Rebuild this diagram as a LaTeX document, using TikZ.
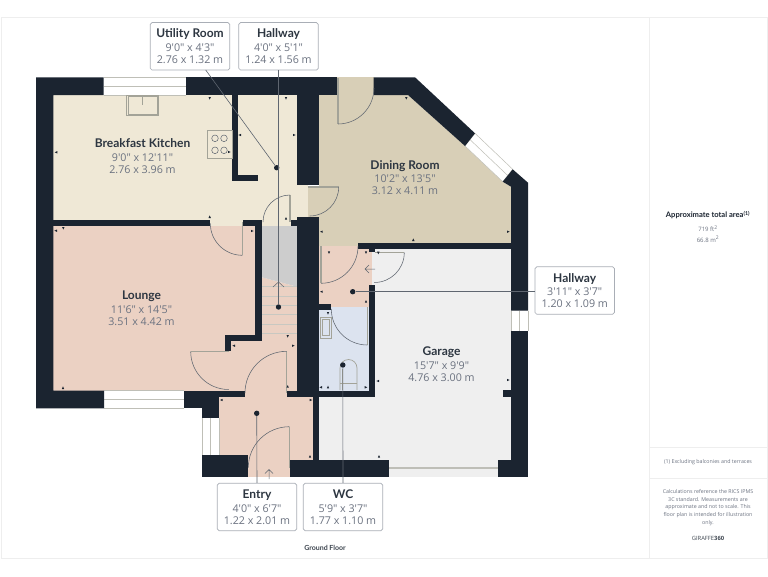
\documentclass[tikz,border=0pt]{standalone}
\usepackage{fontspec}
\setmainfont{Open Sans}
\newfontfamily\headfont{Lato}
\newfontfamily\dimfont{Open Sans}
\definecolor{wallc}{HTML}{1B2430}
\definecolor{kitc}{HTML}{EFE8D6}
\definecolor{dinc}{HTML}{D8CFB7}
\definecolor{louc}{HTML}{EBD1C3}
\definecolor{wcc}{HTML}{DCE3EF}
\definecolor{garc}{HTML}{EFEFEF}
\definecolor{stairc}{HTML}{CDCDCD}
\definecolor{framec}{HTML}{EEEEEE}
\definecolor{linec}{HTML}{5F6670}
\definecolor{dimc}{HTML}{6B7280}
\definecolor{boxc}{HTML}{A9AEB6}
\definecolor{fixc}{HTML}{A3A398}
\tikzset{
  wallfill/.style={fill=wallc,draw=none},
  doorarc/.style={draw=linec,line width=.55pt},
  doorleaf/.style={draw=fixc,line width=1.1pt},
  fixture/.style={draw=fixc,line width=.7pt},
  leader/.style={draw=linec,line width=.6pt},
  dotmark/.style={circle,fill=wallc,inner sep=0pt,minimum size=5.4pt},
  tagbox/.style={draw=boxc,fill=white,rounded corners=1.8pt,line width=.7pt,minimum width=79.5pt,minimum height=47.5pt,inner sep=0pt,align=center},
  roomtext/.style={align=center,inner sep=0pt,text=dimc},
  windowline/.style={draw=fixc!70,line width=.5pt},
}
\newcommand{\rlabel}[3]{{\headfont\bfseries\fontsize{12}{15}\selectfont\color{wallc!92}#1}\\[1.7pt]{\dimfont\fontsize{10.7}{13.4}\selectfont #2}\\{\dimfont\fontsize{10.7}{13.4}\selectfont #3}}
\newcommand{\tk}[3]{\fill[wallc,shift={(#1,#2)},rotate=#3] (1.6,0)--(-1,1.2)--(-1,-1.2)--cycle;}
\begin{document}
\begin{tikzpicture}[x=1pt,y=-1pt]
\useasboundingbox (0,0) rectangle (768,576);
\fill[white] (0,0) rectangle (768,576);
% frame
\draw[framec,line width=1pt] (1.5,17) rectangle (767,558);
\draw[framec,line width=1pt] (649,17) -- (649,558);
\draw[framec,line width=.8pt] (649,447) -- (767,447);
\draw[framec,line width=.8pt] (649,478) -- (767,478);
% floors
\fill[kitc] (53,95) rectangle (297,220);
\fill[kitc] (210,218) rectangle (243,226);
\fill[kitc] (262,218) rectangle (291,226);
\fill[kitc] (296,185) rectangle (308,217);
\fill[dinc] (307.7,186) rectangle (320,217);
\fill[dinc] (319,95) -- (408,95) -- (465,146) -- (502.7,181.7) -- (511,186.7) -- (511,244) -- (358,244) -- (358,246) -- (319,246) -- cycle;
\fill[dinc] (336.7,77) rectangle (373.7,96);
\fill[louc] (53,226) rectangle (256,391);
\fill[louc] (225,340) rectangle (297,392);
\fill[louc] (262,277.3) -- (297,286.7) -- (297,341) -- (262,341) -- cycle;
\fill[louc] (245,390) rectangle (287,397);
\fill[louc] (219,396) rectangle (313,460);
\fill[louc] (248,459) rectangle (290,477);
\fill[stairc] (262,226) -- (297,226) -- (297,286.7) -- (262,277.3) -- cycle;
\fill[garc] (319,249) rectangle (511,460);
\fill[garc] (389,459) rectangle (498,477);
\fill[garc] (511,310) rectangle (528,331);
\fill[louc] (319,246) rectangle (371.7,307);
\fill[wcc] (319,307) rectangle (369.5,391);
% stairs
\foreach \yy in {286.7,296,305.3,314.7,324,333.3} \draw[fixc!60,line width=.5pt] (262,\yy) -- (297,\yy);
\draw[linec,line width=.5pt] (273,287) -- (278.5,282) -- (284,287);
% window panes
\fill[white] (103.5,77.3) rectangle (185.7,95);
\draw[windowline] (103.5,77.3) -- (185.7,77.3) (103.5,86) -- (185.7,86) (103.5,95) -- (185.7,95);
\fill[white] (104,390.7) rectangle (184,408.3);
\draw[windowline] (104,390.7) -- (184,390.7) (104,399.5) -- (184,399.5) (104,408.3) -- (184,408.3);
\fill[white] (202,418) rectangle (219.3,455);
\draw[windowline] (202,418) -- (202,455) (210.6,418) -- (210.6,455) (219.3,418) -- (219.3,455);
\fill[white] (511,310.7) rectangle (528,331);
\draw[windowline] (511,310.7) -- (511,331) (519.5,310.7) -- (519.5,331) (528,310.7) -- (528,331);
\fill[white] (475,133.3) -- (512.7,169.3) -- (502.7,181.7) -- (465,146) -- cycle;
\draw[windowline] (475,133.3) -- (512.7,169.3) (470,139.6) -- (507.7,175.5) (465,146) -- (502.7,181.7) (475,133.3) -- (465,146) (512.7,169.3) -- (502.7,181.7);
% walls
\fill[wallfill] (36,77.3) -- (103.5,77.3) -- (103.5,95) -- (53.3,95) -- (53.3,390.7) -- (104,390.7) -- (104,408.3) -- (36,408.3) -- cycle;
\fill[wallfill] (53,220) rectangle (210,226);
\fill[wallfill] (242.7,220) rectangle (262,226);
\fill[wallfill] (290.7,220) rectangle (297,226);
\fill[wallfill] (185.7,77.3) rectangle (336.7,95);
\fill[wallfill] (232,95) rectangle (238.3,181);
\fill[wallfill] (232,174.7) rectangle (258,181);
\fill[wallfill] (296.7,95) rectangle (319,185.3);
\fill[wallfill] (296.7,216.7) rectangle (318.5,396.7);
\fill[wallfill] (255,220) rectangle (261.7,340.7);
\fill[wallfill] (225,334.7) rectangle (261.7,340.7);
\fill[wallfill] (225,334.7) rectangle (231.3,350.7);
\fill[wallfill] (184,390.7) rectangle (219.3,408.3);
\fill[wallfill] (219,390.7) rectangle (245,396.7);
\fill[wallfill] (202,408) rectangle (219.3,418);
\fill[wallfill] (286.7,390.7) rectangle (319,396.7);
\fill[wallfill] (312.7,396) rectangle (319,460);
\fill[wallfill] (319,390.7) rectangle (375,396.7);
\fill[wallfill] (369,285) rectangle (375,396.7);
\fill[wallfill] (318,304) rectangle (331,310);
\fill[wallfill] (358,243.3) rectangle (511,249.3);
\fill[wallfill] (369,249) rectangle (375,252);
\fill[wallfill] (373.7,77.3) -- (415,77.3) -- (475,133.3) -- (465,146) -- (408,95) -- (373.7,95) -- cycle;
\fill[wallfill] (512.7,169.3) -- (528,182.7) -- (528,310.7) -- (511,310.7) -- (511,186.7) -- (502.7,181.7) -- cycle;
\fill[wallfill] (511,331) rectangle (528,477.3);
\fill[wallfill] (498,460) rectangle (528,477.3);
\fill[wallfill] (503,390) rectangle (511,396.7);
\fill[wallfill] (290,460) rectangle (389.3,477.3);
\fill[wallfill] (202,455) rectangle (248.3,477.3);
% doors
\draw[doorleaf] (338,78) -- (338,124);
\draw[doorarc] (338,124) arc[start angle=90,end angle=0,radius=36];
\draw[doorleaf] (307.7,187) -- (338.7,187);
\draw[doorarc] (338.7,187) arc[start angle=0,end angle=90,radius=29];
\draw[doorleaf] (290,195) -- (290,222);
\draw[doorarc] (290,195) arc[start angle=270,end angle=180,radius=27];
\draw[doorleaf] (242.3,222) -- (242.3,255.3);
\draw[doorarc] (242.3,255.3) arc[start angle=90,end angle=180,radius=32];
\draw[doorleaf] (190.7,351.5) -- (228.7,351.5);
\draw[doorarc] (190.7,351.5) arc[start angle=180,end angle=90,radius=38];
\draw[doorleaf] (286.7,351.3) -- (286.7,393);
\draw[doorarc] (286.7,351.3) arc[start angle=270,end angle=180,radius=41.7];
\draw[doorleaf] (289.3,426.7) -- (289.3,468);
\draw[doorarc] (289.3,426.7) arc[start angle=270,end angle=180,radius=41];
\draw[doorleaf] (321,246) -- (321,283.3);
\draw[doorarc] (321,283.3) arc[start angle=90,end angle=0,radius=37];
\draw[doorleaf] (374.5,252.5) -- (404.3,252.5);
\draw[doorarc] (404.3,252.5) arc[start angle=0,end angle=90,radius=30];
\draw[doorleaf] (367.3,307) -- (367.3,345);
\draw[doorarc] (367.3,345) arc[start angle=90,end angle=180,radius=36];
\draw[linec,line width=.5pt] (375,269) -- (365,269) (369,265) -- (365,269) -- (369,273);
\draw[linec,line width=.5pt] (269,479) -- (269,469.5) (265,473.5) -- (269,469.5) -- (273,473.5);
% garage door
\draw[fixc!70,line width=1.6pt] (389.3,468) -- (498,468);
% fixtures
\draw[fixture] (126.7,95) rectangle (158.7,115.7);
\draw[fixture] (128.2,96) rectangle (157.2,114.2);
\draw[fixture] (142.3,96) -- (142.3,105);
\draw[fixture,fill=kitc] (207.7,130.7) rectangle (232,158.3);
\foreach \xx/\yy in {215/138.3,224/138.3,215/150.3,224/150.3} \draw[linec,line width=.5pt] (\xx,\yy) circle[radius=3.3];
\draw[fixture] (320,317) rectangle (331,338);
\draw[fixture] (322,319.5) rectangle (329,335.5);
\draw[fixture] (340,390) -- (340,368) arc[start angle=180,end angle=360,radius=8.5] -- (357,390);
\draw[fixture] (342,390) -- (342,369);
\draw[fixture] (340,383) -- (357,383);
% dimension ticks
\tk{56.3}{152.3}{180}\tk{209.7}{98}{270}\tk{240}{135}{180}\tk{229}{152}{0}\tk{286}{98}{270}\tk{294}{135}{0}\tk{209.7}{217}{90}\tk{286}{218.7}{90}
\tk{63.3}{228}{270}\tk{56}{230.7}{180}\tk{252}{231}{0}\tk{63}{388}{90}\tk{234}{345.7}{180}\tk{293}{345.7}{0}\tk{287.7}{336}{270}\tk{287.7}{386.7}{90}
\tk{221.7}{400}{180}\tk{310.7}{400}{0}\tk{310}{456.7}{90}
\tk{406.3}{98}{270}\tk{321.7}{231.7}{180}\tk{508}{231.7}{0}\tk{413.3}{240}{90}
\tk{378}{381}{180}\tk{379}{456.7}{90}\tk{508}{380}{0}\tk{321.7}{291.7}{180}\tk{366}{301.7}{90}\tk{378.3}{252.7}{270}\tk{366}{252.3}{270}\tk{329}{252.3}{270}
\tk{328}{313}{270}\tk{321}{387.3}{180}\tk{328}{387.3}{90}\tk{365.7}{387.3}{0}
% room labels
\node[roomtext] (kitchen) at (142.5,155.8) {\rlabel{Breakfast Kitchen}{9'0" x 12'11"}{2.76 x 3.96 m}};
\node[roomtext] (dining) at (405,177.5) {\rlabel{Dining Room}{10'2" x 13'5"}{3.12 x 4.11 m}};
\node[roomtext] (lounge) at (141.5,308.5) {\rlabel{Lounge}{11'6" x 14'5"}{3.51 x 4.42 m}};
\node[roomtext] (garage) at (441.5,364) {\rlabel{Garage}{15'7" x 9'9"}{4.76 x 3.00 m}};
% leader tags
\node[tagbox,text=dimc] (tagutil) at (190,46.3) {\rlabel{Utility Room}{9'0" x 4'3"}{2.76 x 1.32 m}};
\node[tagbox,text=dimc] (taghallA) at (278.5,46.3) {\rlabel{Hallway}{4'0" x 5'1"}{1.24 x 1.56 m}};
\node[tagbox,text=dimc] (taghallB) at (574.7,290.5) {\rlabel{Hallway}{3'11" x 3'7"}{1.20 x 1.09 m}};
\node[tagbox,text=dimc] (tagentry) at (257,507) {\rlabel{Entry}{4'0" x 6'7"}{1.22 x 2.01 m}};
\node[tagbox,text=dimc] (tagwc) at (343,507) {\rlabel{WC}{5'9" x 3'7"}{1.77 x 1.10 m}};
\node[dotmark] (dotutil) at (276.7,167.7) {};
\node[dotmark] (dothallA) at (278.5,307) {};
\node[dotmark] (dothallB) at (352.7,291.7) {};
\node[dotmark] (dotentry) at (256.7,413.3) {};
\node[dotmark] (dotwc) at (342.8,365) {};
\coordinate (utilstart) at (205.7,70);
\draw[leader] (utilstart) -- (dotutil);
\draw[leader] (taghallA.south) -- (dothallA);
\draw[leader] (taghallB.west |- dothallB) -- (dothallB);
\draw[leader] (tagentry.north) -- (dotentry);
\draw[leader] (tagwc.north) -- (dotwc);
% captions
\node[inner sep=0pt,text=wallc!85] (floorcap) at (325,548) {\headfont\bfseries\fontsize{7}{8}\selectfont Ground Floor};
\node[inner sep=0pt,text=wallc] (areatitle) at (708,215) {\headfont\bfseries\fontsize{7.6}{9}\selectfont Approximate total area\textsuperscript{(1)}};
\node[inner sep=0pt,text=dimc] (areaft) at (708,228.5) {\fontsize{6}{8}\selectfont 719 ft\textsuperscript{2}};
\node[inner sep=0pt,text=dimc] (aream) at (708,239) {\fontsize{6}{8}\selectfont 66.8 m\textsuperscript{2}};
\node[inner sep=0pt,text=dimc] (excl) at (708,462) {\fontsize{5.3}{7}\selectfont (1) Excluding balconies and terraces};
\node[inner sep=0pt,text=dimc,align=center,font=\fontsize{5.3}{7.8}\selectfont] (calc) at (708,507.5) {Calculations reference the RICS IPMS\\3C standard. Measurements are\\approximate and not to scale. This\\floor plan is intended for illustration\\only.};
\node[inner sep=0pt,text=wallc!85] (brand) at (708,538) {\fontsize{5.8}{7}\selectfont GIRAFFE\textbf{360}};
\end{tikzpicture}
\end{document}
